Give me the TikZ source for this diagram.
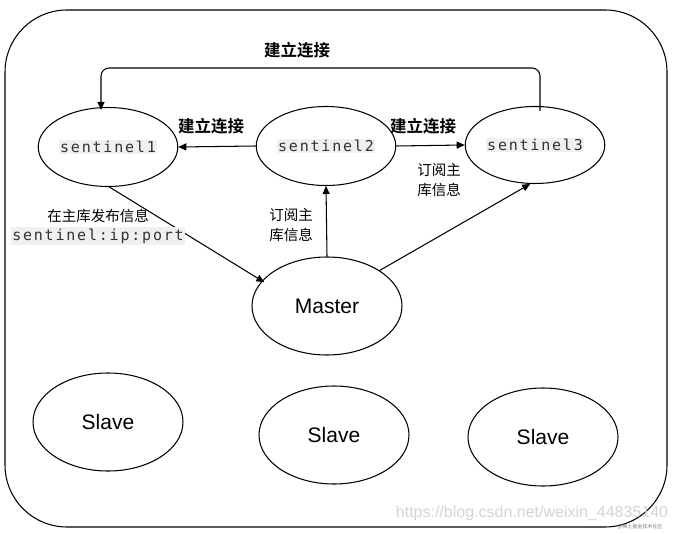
\documentclass[tikz,border=0pt]{standalone}
\usepackage{fontspec}
\setmainfont{Liberation Sans}
\newfontfamily\cjk{Noto Sans CJK SC}
\newfontfamily\cjkb{Noto Sans CJK SC Bold}
\newfontfamily\mono[LetterSpace=12]{DejaVu Sans Mono}
\usetikzlibrary{arrows.meta,shapes.geometric}
\definecolor{codebg}{HTML}{F0F0F0}
\definecolor{codefg}{HTML}{333333}
\definecolor{wm}{HTML}{D4D4D4}
\setlength{\fboxsep}{1.5pt}
\tikzset{
  ell/.style={draw, ellipse, line width=1.05pt, inner sep=0pt},
  sent/.style={ell, minimum width=114pt, minimum height=79pt},
  big/.style={ell, minimum width=150pt, minimum height=98pt, font=\fontsize{21}{24}\selectfont},
  conn/.style={line width=1.05pt, -{Triangle[length=8pt,width=7pt]}},
  lbl/.style={font=\cjkb\fontsize{16.5}{19}\selectfont, inner sep=0pt},
  sml/.style={font=\cjk\fontsize{14.5}{19.5}\selectfont, inner sep=0pt, align=center},
}
\newcommand{\code}[1]{\colorbox{codebg}{\color{codefg}\mono\fontsize{15}{18}\selectfont #1}}
\begin{document}
\begin{tikzpicture}[x=1pt,y=-1pt]
\useasboundingbox (0,0) rectangle (676,534);
\draw[line width=1.05pt, rounded corners=62pt] (5,10) rectangle (667,527);

\node[sent] (s1) at (108,147) {\code{sentinel1}};
\node[sent] (s2) at (326,146) {\code{sentinel2}};
\node[sent, minimum width=116pt, minimum height=77pt] (s3) at (535,145) {\code{sentinel3}};
\node[big] (m) at (327,306) {Master};
\node[big] (sl1) at (108,422) {Slave};
\node[big] (sl2) at (334,435) {Slave};
\node[big] (sl3) at (543,437) {Slave};

\coordinate (topstart) at ([xshift=5pt, yshift=-5pt]s3.north);
\coordinate (topend) at ([xshift=-7pt, yshift=-3pt]s1.north);
\draw[conn, rounded corners=8pt] (topstart) -- (topstart |- 0,68) -| (topend);
\node[lbl] (t0) at (297,50) {建立连接};

\draw[conn] (s2.west) -- (s1.east);
\node[lbl] (t1) at (211,126) {建立连接};
\draw[conn] (s2.east) -- (s3.west);
\node[lbl] (t2) at (423,126) {建立连接};

\draw[conn] (s1.-88) -- ([xshift=-6pt,yshift=-9pt]m.150);
\node[sml] (t3) at (98,216) {在主库发布信息};
\node[inner sep=0pt] (t4) at (98,236) {\code{sentinel:ip:port}};

\draw[conn] (m.north) -- (s2.south);
\node[sml] (t5) at (291,225) {订阅主\\库信息};

\draw[conn] (m.34) -- (s3.-97);
\node[sml] (t6) at (439,180) {订阅主\\库信息};

\node[text=wm, font=\fontsize{16}{18}\selectfont, inner sep=0pt] (wm1) at (532,513) {https://blog.csdn.net/weixin\_44835140};
\node[text=wm!60!black, font=\cjk\fontsize{5}{6}\selectfont, inner sep=0pt] (wm2) at (640,527) {@稀土掘金技术社区};
\end{tikzpicture}
\end{document}
